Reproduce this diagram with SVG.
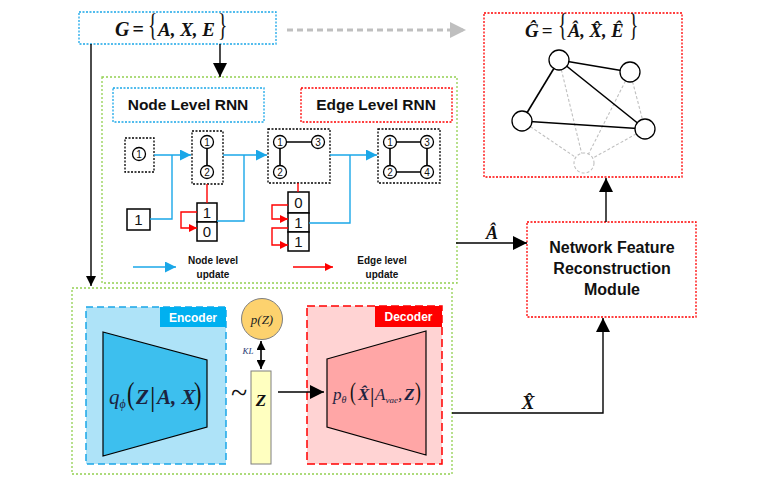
<svg xmlns="http://www.w3.org/2000/svg" width="767" height="480" viewBox="0 0 767 480">
<defs>
<marker id="ab" viewBox="0 0 10 10" refX="10" refY="5" markerWidth="10" markerHeight="10" markerUnits="userSpaceOnUse" orient="auto"><path d="M0,0 L10,5 L0,10 z" fill="#000"/></marker>
<marker id="abL" viewBox="0 0 10 10" refX="10" refY="5" markerWidth="14" markerHeight="14" markerUnits="userSpaceOnUse" orient="auto"><path d="M0,0 L10,5 L0,10 z" fill="#000"/></marker>
<marker id="abS" viewBox="0 0 10 10" refX="10" refY="5" markerWidth="9" markerHeight="9" markerUnits="userSpaceOnUse" orient="auto-start-reverse"><path d="M0,0 L10,5 L0,10 z" fill="#000"/></marker>
<marker id="ag" viewBox="0 0 10 10" refX="10" refY="5" markerWidth="16" markerHeight="16" markerUnits="userSpaceOnUse" orient="auto"><path d="M0,0 L10,5 L0,10 z" fill="#bfbfbf"/></marker>
<marker id="abl" viewBox="0 0 10 10" refX="10" refY="5" markerWidth="11" markerHeight="11" markerUnits="userSpaceOnUse" orient="auto"><path d="M0,0 L10,5 L0,10 z" fill="#1aa7e8"/></marker>
<marker id="ar" viewBox="0 0 10 10" refX="10" refY="5" markerWidth="8" markerHeight="8" markerUnits="userSpaceOnUse" orient="auto"><path d="M0,0 L10,5 L0,10 z" fill="#ff0000"/></marker>
</defs>
<style>
.math{font-family:"Liberation Serif","Times New Roman",serif;font-weight:bold;font-style:italic;fill:#111}
.fm{font-family:"Liberation Serif","Times New Roman",serif;font-style:italic;fill:#1c2340}
.br{font-family:"Liberation Serif","Times New Roman",serif;font-weight:normal;font-style:normal;fill:#111}
.lbl{font-family:"Liberation Sans",Arial,sans-serif;font-weight:bold;fill:#111}
.num{font-family:"Liberation Sans",Arial,sans-serif;fill:#111;text-anchor:middle}
.gbox{fill:none;stroke:#000;stroke-width:1.3;stroke-dasharray:2 1.5}
.node{fill:#fff;stroke:#000;stroke-width:1.3}
.edge{stroke:#000;stroke-width:1.6}
.cell{fill:#fff;stroke:#000;stroke-width:1.5}
.blue{fill:none;stroke:#1aa7e8;stroke-width:1.4}
.red{fill:none;stroke:#ff0000;stroke-width:1.4}
.green{fill:none;stroke:#92d050;stroke-width:1.3;stroke-dasharray:2 2}
.conn{fill:none;stroke:#000;stroke-width:1.4}
</style>
<rect width="767" height="480" fill="#fff"/>

<g id="input-graph">
<rect x="79" y="12" width="197" height="32" fill="#fff" stroke="#1aa7e8" stroke-width="1.3" stroke-dasharray="2 1.5"/>
<text class="math" x="115" y="36" font-size="20">G<tspan font-style="normal" dx="3">=</tspan></text>
<text class="br" font-size="26" transform="translate(148,36) scale(0.75,1.2)">{</text>
<text class="math" x="158" y="36" font-size="19">A, X, E</text>
<text class="br" font-size="26" transform="translate(218,36) scale(0.75,1.2)">}</text>
</g>

<g id="rnn-module">
<rect class="green" x="102" y="77" width="355" height="206"/>
<g id="node-level-rnn-label">
<rect x="113" y="88" width="151" height="34" fill="none" stroke="#1aa7e8" stroke-width="1.3" stroke-dasharray="2 1.5"/>
<text class="lbl" x="188" y="110" font-size="15.5" text-anchor="middle">Node Level RNN</text>
</g>
<g id="edge-level-rnn-label">
<rect x="301" y="88" width="151" height="34" fill="none" stroke="#ff0000" stroke-width="1.3" stroke-dasharray="2 1.5"/>
<text class="lbl" x="376" y="110" font-size="15.5" text-anchor="middle">Edge Level RNN</text>
</g>

<g id="graph-step-1">
<rect class="gbox" x="125" y="138" width="29" height="34"/>
<circle class="node" cx="139" cy="154" r="6.5"/>
<text class="num" x="139" y="157.5" font-size="10">1</text>
</g>
<g id="input-one">
<rect class="cell" x="127" y="209" width="23" height="21"/>
<text class="num" x="138.5" y="225" font-size="15">1</text>
</g>
<g id="graph-step-2">
<rect class="gbox" x="192" y="131" width="31" height="53"/>
<line class="edge" x1="207" y1="142" x2="207" y2="172"/>
<circle class="node" cx="207" cy="142" r="6.5"/>
<circle class="node" cx="207" cy="172" r="6.5"/>
<text class="num" x="207" y="145.5" font-size="10">1</text>
<text class="num" x="207" y="175.5" font-size="10">2</text>
</g>
<g id="edge-seq-2">
<rect class="cell" x="197" y="203" width="20" height="19"/>
<rect class="cell" x="197" y="222" width="20" height="19"/>
<text class="num" x="207" y="218" font-size="15">1</text>
<text class="num" x="207" y="237" font-size="15">0</text>
</g>
<g id="graph-step-3">
<rect class="gbox" x="268" y="129" width="62" height="54"/>
<line class="edge" x1="280" y1="142" x2="318" y2="142"/>
<line class="edge" x1="280" y1="142" x2="280" y2="172"/>
<circle class="node" cx="280" cy="142" r="6.5"/>
<circle class="node" cx="318" cy="142" r="6.5"/>
<circle class="node" cx="280" cy="172" r="6.5"/>
<text class="num" x="280" y="145.5" font-size="10">1</text>
<text class="num" x="318" y="145.5" font-size="10">3</text>
<text class="num" x="280" y="175.5" font-size="10">2</text>
</g>
<g id="edge-seq-3">
<rect class="cell" x="288" y="192" width="21" height="21"/>
<rect class="cell" x="288" y="213" width="21" height="19"/>
<rect class="cell" x="288" y="232" width="21" height="19"/>
<text class="num" x="298.5" y="208" font-size="15">0</text>
<text class="num" x="298.5" y="228" font-size="15">1</text>
<text class="num" x="298.5" y="247" font-size="15">1</text>
</g>
<g id="graph-step-4">
<rect class="gbox" x="378" y="129" width="62" height="54"/>
<path class="edge" d="M390,142 H427 V172 H390 Z" fill="none"/>
<circle class="node" cx="390" cy="142" r="6.5"/>
<circle class="node" cx="427" cy="142" r="6.5"/>
<circle class="node" cx="390" cy="172" r="6.5"/>
<circle class="node" cx="427" cy="172" r="6.5"/>
<text class="num" x="390" y="145.5" font-size="10">1</text>
<text class="num" x="427" y="145.5" font-size="10">3</text>
<text class="num" x="390" y="175.5" font-size="10">2</text>
<text class="num" x="427" y="175.5" font-size="10">4</text>
</g>
<g id="legend">
<line class="blue" x1="133" y1="267" x2="176" y2="267" marker-end="url(#abl)"/>
<text class="lbl" x="213" y="264" font-size="10" text-anchor="middle">Node level</text>
<text class="lbl" x="213" y="278" font-size="10" text-anchor="middle">update</text>
<line class="red" x1="293" y1="267" x2="333" y2="267" marker-end="url(#ar)"/>
<text class="lbl" x="382" y="264" font-size="10" text-anchor="middle">Edge level</text>
<text class="lbl" x="382" y="278" font-size="10" text-anchor="middle">update</text>
</g>
</g>

<g id="vae-module">
<rect class="green" x="72" y="288" width="380" height="186"/>
<g id="encoder">
<rect x="86" y="307" width="140" height="157" fill="#aee3f8" stroke="#1aa7e8" stroke-width="1.5" stroke-dasharray="7 4"/>
<rect x="160" y="307" width="66" height="20" fill="#00b0f0"/>
<text x="193" y="322" font-family="Liberation Sans, Arial, sans-serif" font-weight="bold" font-size="12" fill="#fff" text-anchor="middle">Encoder</text>
<path d="M103,332 L207,360 L207,427 L103,456 Z" fill="#3dbfee" stroke="#000" stroke-width="1.2"/>
<text class="fm" x="109" y="404" font-size="21">q<tspan font-size="12" dy="4">ϕ</tspan></text>
<text class="br" font-size="28" transform="translate(127,404) scale(0.8,1.15)" fill="#1c2340">(</text>
<text class="fm" x="136" y="404" font-size="21" font-weight="bold">Z</text>
<text class="br" x="150" y="406" font-size="27" fill="#1c2340">|</text>
<text class="fm" x="157" y="404" font-size="21" font-weight="bold">A, X</text>
<text class="br" font-size="28" transform="translate(194,404) scale(0.8,1.15)" fill="#1c2340">)</text>
</g>
<g id="prior">
<circle cx="262" cy="319" r="20.5" fill="#fdd26e" stroke="#7f7f7f" stroke-width="1"/>
<text x="262" y="324" font-family="Liberation Serif, Times New Roman, serif" font-style="italic" font-size="13" fill="#222" text-anchor="middle">p(Z)</text>
<text x="248" y="354" font-family="Liberation Serif, Times New Roman, serif" font-style="italic" font-size="9" fill="#1f3b73" text-anchor="middle">KL</text>
</g>
<g id="latent-z">
<text x="239" y="403" font-family="Liberation Serif, Times New Roman, serif" font-size="30" fill="#111" text-anchor="middle">~</text>
<rect x="251" y="371" width="20" height="93" fill="#ffffc0" stroke="#7f7f7f" stroke-width="1"/>
<text class="math" x="261" y="406" font-size="17" text-anchor="middle">Z</text>
</g>
<g id="decoder">
<rect x="307" y="306" width="135" height="158" fill="#ffd3d3" stroke="#ff0000" stroke-width="1.5" stroke-dasharray="8 4"/>
<rect x="375" y="306" width="67" height="21" fill="#ff0000"/>
<text x="408.5" y="321" font-family="Liberation Sans, Arial, sans-serif" font-weight="bold" font-size="12" fill="#fff" text-anchor="middle">Decoder</text>
<path d="M327,359 L426,331 L426,455 L327,427 Z" fill="#ffa6a6" stroke="#000" stroke-width="1.2"/>
<text class="fm" x="333" y="400" font-size="17">p<tspan font-size="10" dy="3">θ</tspan></text>
<text class="br" font-size="22" transform="translate(350,400) scale(0.8,1.15)" fill="#1c2340">(</text>
<text class="fm" x="358" y="400" font-size="17" font-weight="bold">X̂</text>
<text class="br" x="370" y="402" font-size="22" fill="#1c2340">|</text>
<text class="fm" x="375" y="400" font-size="17">A<tspan font-size="9" dy="3">vae</tspan><tspan dy="-3">,</tspan><tspan font-weight="bold" dx="2">Z</tspan></text>
<text class="br" font-size="22" transform="translate(415,400) scale(0.8,1.15)" fill="#1c2340">)</text>
</g>
</g>

<g id="reconstructed-graph">
<rect x="484" y="13" width="198" height="164" fill="#fff" stroke="#ff0000" stroke-width="1.3" stroke-dasharray="2 1.5"/>
<text class="math" x="525" y="37" font-size="19">Ĝ<tspan font-style="normal" dx="3">=</tspan></text>
<text class="br" font-size="26" transform="translate(558,36) scale(0.75,1.25)">{</text>
<text class="math" x="568" y="37" font-size="18.5">Â, X̂, Ê</text>
<text class="br" font-size="26" transform="translate(629,36) scale(0.75,1.25)">}</text>
<g stroke="#c0c0c0" stroke-width="1.1" stroke-dasharray="3 2" fill="none">
<line x1="559" y1="60" x2="584" y2="163"/>
<line x1="630" y1="72" x2="584" y2="163"/>
<line x1="630" y1="72" x2="645" y2="129"/>
<line x1="522" y1="121" x2="584" y2="163"/>
<line x1="645" y1="129" x2="584" y2="163"/>
<circle cx="584" cy="163" r="10" fill="#fff"/>
</g>
<g class="edge">
<line x1="559" y1="60" x2="630" y2="72"/>
<line x1="559" y1="60" x2="522" y2="121"/>
<line x1="559" y1="60" x2="645" y2="129"/>
<line x1="522" y1="121" x2="645" y2="129"/>
</g>
<circle class="node" cx="559" cy="60" r="10"/>
<circle class="node" cx="630" cy="72" r="10"/>
<circle class="node" cx="522" cy="121" r="10"/>
<circle class="node" cx="645" cy="129" r="10"/>
</g>

<g id="reconstruction-module">
<rect x="527" y="222" width="169" height="95" fill="#fff" stroke="#ff0000" stroke-width="1.3" stroke-dasharray="2 1.5"/>
<text class="lbl" x="612" y="253" font-size="16" text-anchor="middle">Network Feature</text>
<text class="lbl" x="612" y="274" font-size="16" text-anchor="middle">Reconstruction</text>
<text class="lbl" x="612" y="295" font-size="16" text-anchor="middle">Module</text>
</g>

<g id="connectors">
<line x1="287" y1="30" x2="466" y2="30" stroke="#bfbfbf" stroke-width="3" stroke-dasharray="6 4" marker-end="url(#ag)"/>
<line class="conn" x1="220" y1="44" x2="220" y2="77" marker-end="url(#abL)"/>
<line class="conn" x1="91" y1="44" x2="91" y2="286" marker-end="url(#ab)"/>
<path class="blue" d="M154,155 H191" marker-end="url(#abl)"/>
<path class="blue" d="M150,219 H172 V155"/>
<path class="blue" d="M223,155 H267" marker-end="url(#abl)"/>
<path class="blue" d="M217,221 H244 V155"/>
<path class="blue" d="M330,155 H377" marker-end="url(#abl)"/>
<path class="blue" d="M309,223 H350 V155"/>
<line class="red" x1="207" y1="184" x2="207" y2="203"/>
<path class="red" d="M197,212 H181 V228 H197" marker-end="url(#ar)"/>
<line class="red" x1="298" y1="183" x2="298" y2="192"/>
<path class="red" d="M288,205 H272 V219 H288" marker-end="url(#ar)"/>
<path class="red" d="M288,228 H272 V245 H288" marker-end="url(#ar)"/>
<line x1="261" y1="341" x2="261" y2="369" stroke="#000" stroke-width="1.6" marker-start="url(#abS)" marker-end="url(#abS)"/>
<line class="conn" x1="278" y1="392" x2="324" y2="392" marker-end="url(#abL)"/>
<line class="conn" x1="456" y1="243" x2="527" y2="243" marker-end="url(#abL)"/>
<text class="math" x="492" y="239" font-size="18" text-anchor="middle">Â</text>
<path class="conn" d="M452,413 H603 V318" marker-end="url(#abL)"/>
<text class="math" x="528" y="409" font-size="19" text-anchor="middle">X̂</text>
<line class="conn" x1="606" y1="222" x2="606" y2="178" marker-end="url(#abL)"/>
</g>
</svg>
